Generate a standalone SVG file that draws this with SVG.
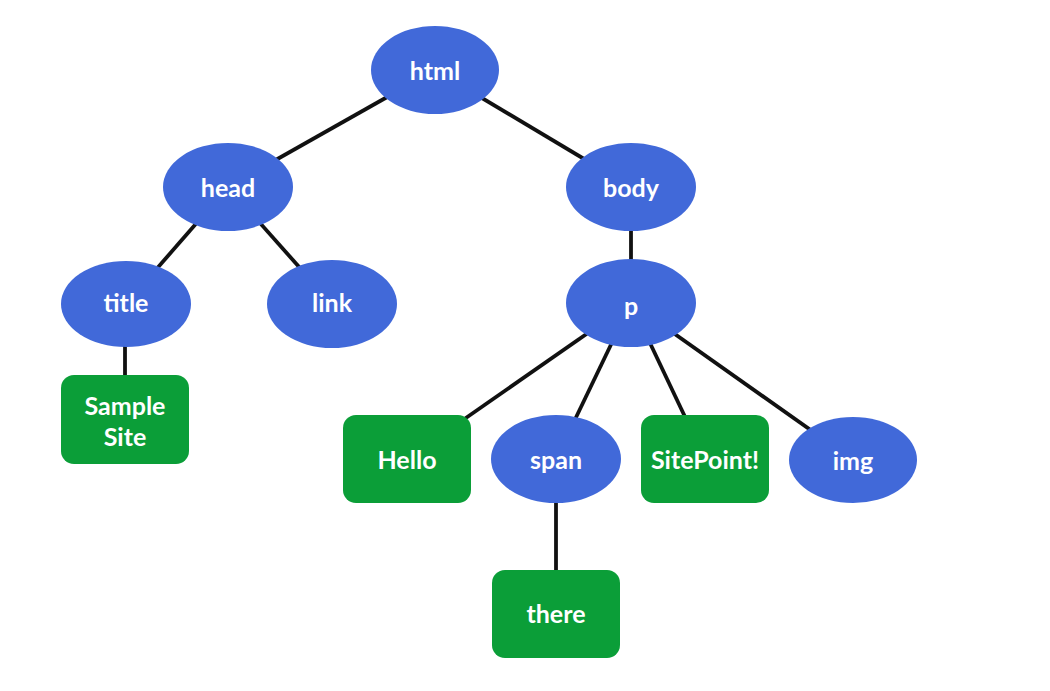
<svg xmlns="http://www.w3.org/2000/svg" width="1050" height="691" viewBox="0 0 1050 691">
<style>
.el{fill:#4169d9}
.bx{fill:#0b9e38}
.t{font-family:Lato,"Open Sans","DejaVu Sans",sans-serif;font-size:25px;font-weight:bold;fill:#ffffff;text-anchor:middle;dominant-baseline:central;letter-spacing:0px}
.c line{stroke:#111111;stroke-width:3.8}
</style>
<rect width="1050" height="691" fill="#ffffff"/>
<g class="c" id="connectors">
<line x1="435" y1="70" x2="228" y2="187"/>
<line x1="435" y1="70" x2="631" y2="187"/>
<line x1="228" y1="187" x2="126" y2="304"/>
<line x1="228" y1="187" x2="332" y2="304"/>
<line x1="125" y1="304" x2="125" y2="420"/>
<line x1="631" y1="187" x2="631" y2="303"/>
<line x1="631" y1="303" x2="407" y2="459"/>
<line x1="631" y1="303" x2="556" y2="459"/>
<line x1="631" y1="303" x2="705" y2="459"/>
<line x1="631" y1="303" x2="853" y2="460"/>
<line x1="556" y1="459" x2="556" y2="614"/>
</g>
<g id="html"><ellipse class="el" cx="435" cy="70" rx="64" ry="44"/><text class="t" x="435" y="70">html</text></g>
<g id="head"><ellipse class="el" cx="228" cy="187" rx="65" ry="44"/><text class="t" x="228" y="187">head</text></g>
<g id="body"><ellipse class="el" cx="631" cy="187" rx="65" ry="44"/><text class="t" x="631" y="187">body</text></g>
<g id="title"><ellipse class="el" cx="126" cy="304" rx="65" ry="43"/><text class="t" x="126" y="302">title</text></g>
<g id="link"><ellipse class="el" cx="332" cy="304" rx="65" ry="44"/><text class="t" x="332" y="302">link</text></g>
<g id="p"><ellipse class="el" cx="631" cy="303" rx="65" ry="44"/><text class="t" x="631" y="305">p</text></g>
<g id="sample-site"><rect class="bx" x="61" y="375" width="128" height="89" rx="13"/><text class="t" x="125" y="405">Sample</text><text class="t" x="125" y="436">Site</text></g>
<g id="hello"><rect class="bx" x="343" y="415" width="128" height="88" rx="13"/><text class="t" x="407" y="459">Hello</text></g>
<g id="span"><ellipse class="el" cx="556" cy="459" rx="65" ry="44"/><text class="t" x="556" y="459">span</text></g>
<g id="sitepoint"><rect class="bx" x="641" y="415" width="128" height="88" rx="13"/><text class="t" x="705" y="459">SitePoint!</text></g>
<g id="img"><ellipse class="el" cx="853" cy="460" rx="64" ry="43"/><text class="t" x="853" y="460">img</text></g>
<g id="there"><rect class="bx" x="492" y="570" width="128" height="88" rx="13"/><text class="t" x="556" y="613">there</text></g>
</svg>
